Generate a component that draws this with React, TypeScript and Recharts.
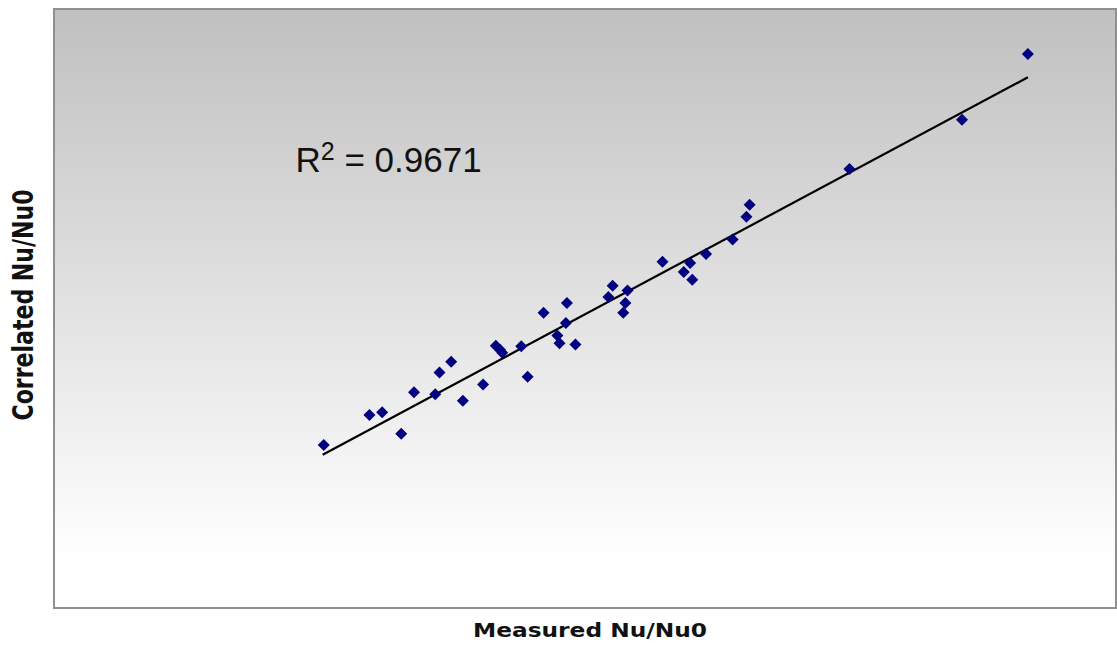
import {
  CartesianGrid,
  ReferenceArea,
  ReferenceLine,
  Scatter,
  ScatterChart,
  XAxis,
  YAxis,
} from "recharts";

// values (arbitrary units, axes carry no ticks)
const measured = [
  2.54, 2.97, 3.09, 3.27, 3.39, 3.59, 3.63, 3.74, 3.85, 4.04, 4.16, 4.2, 4.22,
  4.4, 4.46, 4.61, 4.74, 4.76, 4.82, 4.83, 4.91, 5.22, 5.26, 5.36, 5.38, 5.4,
  5.73, 5.93, 5.99, 6.01, 6.14, 6.39, 6.52, 6.55, 7.49, 8.55, 9.17,
];
const correlated = [
  2.72, 3.22, 3.27, 2.91, 3.6, 3.57, 3.93, 4.11, 3.46, 3.73, 4.38, 4.31, 4.26,
  4.37, 3.86, 4.93, 4.55, 4.42, 4.76, 5.09, 4.4, 5.19, 5.38, 4.93, 5.09, 5.3,
  5.78, 5.61, 5.76, 5.48, 5.91, 6.15, 6.53, 6.73, 7.33, 8.15, 9.25,
];
// linear trendline end points
const trendMeasured = [2.53, 9.17];
const trendCorrelated = [2.56, 8.86];
const rSquared = "0.9671";

const points = measured.map((x, i) => ({ x, y: correlated[i] }));

const Diamond = (props: any) => {
  const { cx, cy } = props;
  const r = 6;
  return (
    <polygon
      points={`${cx},${cy - r} ${cx + r},${cy} ${cx},${cy + r} ${cx - r},${cy}`}
      fill="#000080"
    />
  );
};

export default function App() {
  return (
    <div style={{ width: 1117, height: 649 }}>
      <style>{`body{margin:0}`}</style>
      <ScatterChart
        width={1117}
        height={649}
        margin={{ top: 9, right: 1, bottom: 41, left: 54 }}
      >
        <defs>
          <linearGradient id="plotBg" x1="0" y1="0" x2="0" y2="1">
            <stop offset="0%" stopColor="#c0c0c0" />
            <stop offset="92%" stopColor="#ffffff" />
          </linearGradient>
        </defs>
        <CartesianGrid
          horizontal={false}
          vertical={false}
          fill="url(#plotBg)"
          fillOpacity={1}
        />
        <XAxis type="number" dataKey="x" domain={[0, 10]} hide />
        <YAxis type="number" dataKey="y" domain={[0, 10]} hide />
        <ReferenceArea
          x1={0}
          x2={10}
          y1={0}
          y2={10}
          fill="none"
          stroke="#8f8f8f"
          strokeWidth={2}
        />
        <ReferenceLine
          segment={[
            { x: trendMeasured[0], y: trendCorrelated[0] },
            { x: trendMeasured[1], y: trendCorrelated[1] },
          ]}
          stroke="#000"
          strokeWidth={2.2}
        />
        <Scatter data={points} shape={Diamond} isAnimationActive={false} />
        <text
          x={295.5}
          y={172}
          fontFamily="'Liberation Sans', Arial, sans-serif"
          fontSize={35}
          fill="#111"
        >
          <tspan>R</tspan>
          <tspan dy={-12} fontSize={25}>
            2
          </tspan>
          <tspan dy={12}>{` = ${rSquared}`}</tspan>
        </text>
        <text
          x={590}
          y={637}
          textAnchor="middle"
          fontFamily="'DejaVu Sans', Verdana, sans-serif"
          fontWeight="bold"
          fontSize={20}
          textLength={234}
          lengthAdjust="spacingAndGlyphs"
          fill="#111"
        >
          Measured Nu/Nu0
        </text>
        <text
          transform="translate(33,305) scale(1.4,1) rotate(-90)"
          textAnchor="middle"
          fontFamily="'DejaVu Sans', Verdana, sans-serif"
          fontWeight="bold"
          fontSize={20}
          textLength={231}
          lengthAdjust="spacingAndGlyphs"
          fill="#111"
        >
          Correlated Nu/Nu0
        </text>
      </ScatterChart>
    </div>
  );
}
